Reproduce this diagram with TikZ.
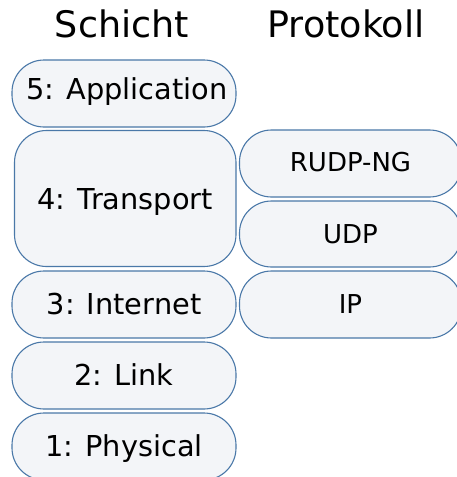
\documentclass[tikz,border=0pt]{standalone}
\usepackage{fontspec}
\setmainfont{DejaVu Sans}
\definecolor{boxfill}{RGB}{243,245,248}
\definecolor{boxline}{RGB}{74,120,168}
\begin{document}
\begin{tikzpicture}[x=1pt,y=-1pt,
  layer/.style={draw=boxline, fill=boxfill, line width=1.1pt, rounded corners=32pt,
    inner sep=0pt, text height=22pt, text depth=2pt, font=\fontsize{28.8}{34}\selectfont},
  proto/.style={draw=boxline, fill=boxfill, line width=1.1pt, rounded corners=32pt,
    inner sep=0pt, text height=20pt, text depth=2pt, font=\fontsize{26}{30}\selectfont},
  head/.style={anchor=base, inner sep=0pt, font=\fontsize{36.5}{40}\selectfont}]
\useasboundingbox (0,0) rectangle (456,477);
\node[head] (h1) at (122,37) {Schicht};
\node[head] (h2) at (346,37) {Protokoll};
\node[layer, minimum width=224pt, minimum height=67pt, text height=20pt, text depth=8pt] (l5) at (124,93.5) {\hspace*{6pt}5: Application};
\node[layer, minimum width=221.5pt, minimum height=136pt, text height=24pt, text depth=2pt] (l4) at (125.25,198.5) {4: Transport};
\node[layer, minimum width=224pt, minimum height=67pt] (l3) at (124,304.5) {3: Internet};
\node[layer, minimum width=224pt, minimum height=67pt] (l2) at (124,375.5) {2: Link};
\node[layer, minimum width=224pt, minimum height=67pt] (l1) at (124,446.5) {1: Physical};
\node[proto, minimum width=222pt, minimum height=67pt, text height=18pt] (p3) at (350.5,163.5) {RUDP-NG};
\node[proto, minimum width=222pt, minimum height=66pt] (p2) at (350.5,234) {UDP};
\node[proto, minimum width=222pt, minimum height=67pt] (p1) at (350.5,304.5) {IP};
\end{tikzpicture}
\end{document}
